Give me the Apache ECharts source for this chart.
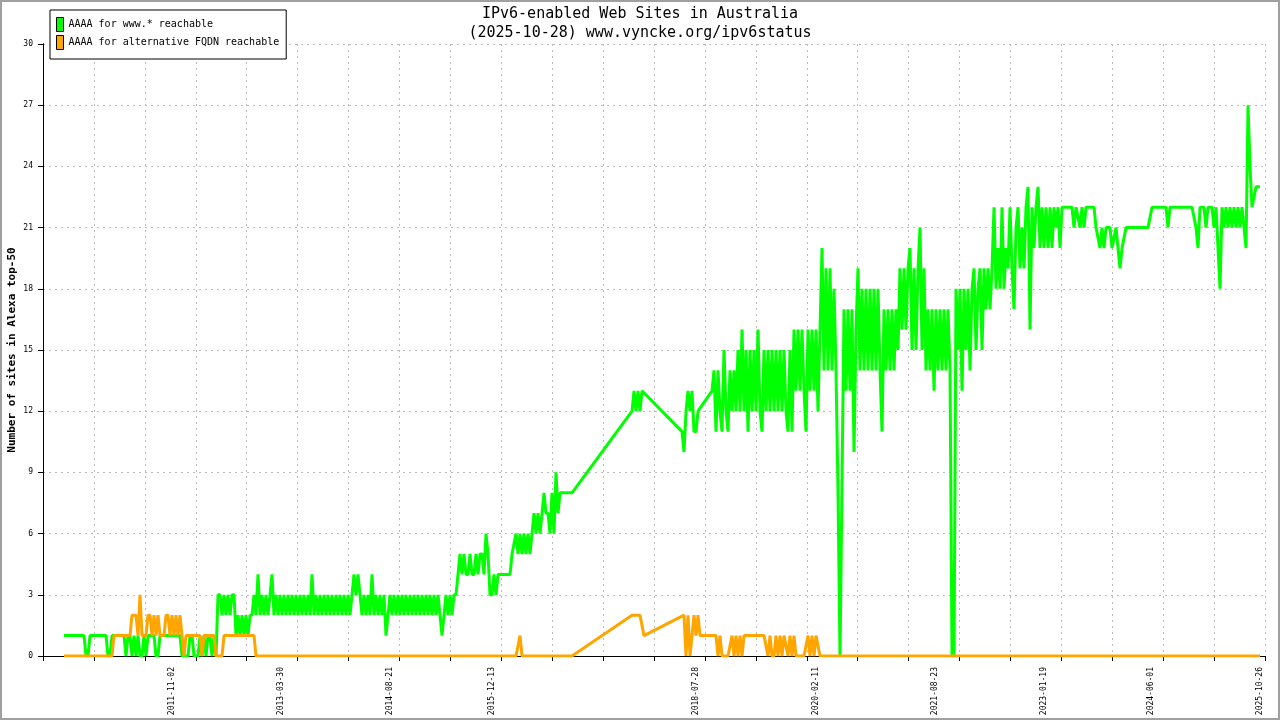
<!DOCTYPE html>
<html>
<head>
<meta charset="utf-8">
<script src="https://cdn.jsdelivr.net/npm/echarts@6/dist/echarts.min.js"></script>
<style>
html,body{margin:0;padding:0;background:#fff;}
#chart{position:absolute;left:0;top:0;width:1280px;height:720px;}
#frame{position:absolute;left:0;top:0;width:1280px;height:720px;box-sizing:border-box;border:2px solid #a0a0a0;pointer-events:none;}
</style>
</head>
<body>
<div id="chart"></div>
<div id="frame"></div>
<script>
// ---- axis / sampling ----
const AXIS_START = [2010, 3, 8];     // date at left edge of plot
const AXIS_DAYS = 5736;              // span of the x axis in days
const TICK_DAYS = 239;               // 24 tick intervals
const DATA_START_DAY = 98.6;         // first sample, days after AXIS_START
const STEP_DAYS = 9.388;             // sampling step of the readings
const SAMPLE_COUNT = 599;

const labelDates = ['2011-11-02','2013-03-30','2014-08-21','2015-12-13','2018-07-28',
                    '2020-02-11','2021-08-23','2023-01-19','2024-06-01','2025-10-26'];
const yTicks = [0,3,6,9,12,15,18,21,24,27,30];

const seriesNames = ['AAAA for www.* reachable', 'AAAA for alternative FQDN reachable'];

// readings: [sampleIndex, value] (held until next entry) or [sampleIndex, [consecutive values]]; null = no readings
const greenPts = [
  [0,1],[11,0],[13,1],[22,0],[24,1],[31,0],[32,1],
  [34,[0,1,0,1,0,0,1,0]],
  [42,1],[46,0],[48,1],[59,0],
  [63,[1,1,0,0,0,1,0,1,0,1,1,0,1,0]],
  [77,[3,3,2,3,2,3,2,3,3]],
  [86,[1,2,1,2,1,2,1,2,2,3,2,4]],
  [98,[2,3,2,3,2,3,4,2]],
  [106,[3,2,3,2,3,2,3,2,3,2,3,2,3,2,3,2,3,2,4,2]],
  [126,[3,2,3,2,3,2,3,2,3,2,3,2,3,2,3,2,3,2,3,4,3,4,3]],
  [149,[2,3,2,3,2,4,2,3,2,3,2,3,1,2]],
  [163,[3,2,3,2,3,2,3,2,3,2,3,2,3,2,3,2,3,2,3,2,3,2,3,2,3,2]],
  [189,[1,2,3,2,3,2,3,3,4,5,4,5,4,4,5,4,4,5,4,5,5,4,6,5,3,3,4,3,4]],
  [224,[5,5,6,5,6,5,6,5,6,5,6,7,6,7,6,7,8,7,7,6,8,6,9,7,8]],
  [255,null],
  [284,[12,13,12,13,12,13]],
  [290,null],
  [309,[11,10,12,13,12,13,11,11,12,12]],
  [319,null],
  [324,[13,
    14,11,14,12,11,15,12,11,14,12,14,12,15,12,
    16,12,15,11,15,12,15,12,16,12,
    11,15,12,15,12,15,12,15,12,15,
    12,15,12,11,15,11,16,13,16,13,
    16,13,11,16,13,16,13,16,12,16,
    20,14,19,14,19,14,18,14,8,0,
    0,17,13,17,13,17,10,16,19,14,
    18,14,18,14,18,14,18,14,18,14,
    11,17,14,17,14,17,14,17,15,19,
    16,19,16,19,20,15,19,15,19,21,
    15,19,14,17,14,17,13,17,14,17,
    14,17,14,17,14,0,0,18,15,18,
    13,18,15,18,14,18,19,15,18,19,
    15,19,17,19,17,19,22,18,20,18,
    22,18,20,19,22,19,17,21,22,19,
    21,19,22,23,16,22,20,22,23,20,
    22,20,22,20,22,20,22,21,22,20,
    22]],
  [500,[22,22,22,22,22,21,22,22,21,22,21,22,22,22,22,22,21,21,20,21,20,21,21,21,20,20,21,20,19,20,20]],
  [531,21],[544,22],[552,21],[553,22],
  [566,[21,20,22]],[571,21],[572,22],[575,21],[576,22],
  [577,[20,18,22,21,22,21,22,21,22,21,22,21,22,21,20,27,24,22,22,23,23,23]]
];

const orangePts = [
  [0,0],[25,1],
  [34,[2,2,2,1,3,1,1,1,2,2,1,2,1,2,1,1,1,2,2,1,2,1,2,1,2]],
  [59,1],[60,0],[61,1],[69,0],[70,1],[76,0],[80,1],[96,0],
  [228,1],[229,0],
  [255,null],[284,2],[290,1],[291,null],[310,2],
  [311,[0,2,0,1,2,1,2,1]],
  [327,[0,1,0]],
  [334,[1,0,1,0,1,0,1]],
  [352,[0,1,0,0,1,0,1,0,1,1,0,1,0,1,0,0]],
  [372,[1,0,1,0,1,1,0]]
];

// ---- build ----
function decode(pts, n) {
  const out = new Array(n).fill(null);
  for (let j = 0; j < pts.length; j++) {
    const k = pts[j][0], v = pts[j][1];
    const next = j + 1 < pts.length ? pts[j + 1][0] : n;
    for (let i = k; i < next && i < n; i++) {
      out[i] = Array.isArray(v) ? v[Math.min(i - k, v.length - 1)] : v;
    }
  }
  return out;
}
function dayOf(i) { return DATA_START_DAY + i * STEP_DAYS; }
// periods without readings are bridged by a straight segment (points simply omitted)
function lineData(vals) {
  const d = [];
  vals.forEach((v, i) => { if (v !== null) d.push([dayOf(i), v]); });
  return d;
}
const startMs = Date.UTC(AXIS_START[0], AXIS_START[1] - 1, AXIS_START[2]);
function dayOffset(s) {
  const p = s.split('-').map(Number);
  return (Date.UTC(p[0], p[1] - 1, p[2]) - startMs) / 86400000;
}
const labelDays = labelDates.map(dayOffset);
const greenVals = decode(greenPts, SAMPLE_COUNT);
const orangeVals = decode(orangePts, SAMPLE_COUNT);

const MONO = 'DejaVu Sans Mono';
const GREEN = '#00ff00', ORANGE = '#ffa500';
function lineSeries(name, color, data, z) {
  return {
    name: name, type: 'line', xAxisIndex: 0, yAxisIndex: 0, data: data,
    showSymbol: false, symbol: 'none', sampling: false,
    color: color, lineStyle: {color: color, width: 3},
    itemStyle: {color: color}, z: z, silent: true
  };
}
const chart = echarts.init(document.getElementById('chart'), null, {renderer: 'canvas'});
const option = {
  animation: false,
  backgroundColor: '#ffffff',
  title: {
    text: 'IPv6-enabled Web Sites in Australia\n(2025-10-28) www.vyncke.org/ipv6status',
    left: 'center', top: 0,
    textStyle: {fontFamily: MONO, fontSize: 15, fontWeight: 'normal', color: '#000', lineHeight: 19}
  },
  legend: {
    orient: 'vertical', left: 50, top: 10,
    backgroundColor: '#fff', borderColor: '#000', borderWidth: 1,
    padding: [7, 7, 9, 6], itemGap: 3, itemWidth: 7, itemHeight: 14,
    icon: 'rect',
    itemStyle: {borderColor: '#000', borderWidth: 1},
    textStyle: {fontFamily: MONO, fontSize: 10, color: '#000'},
    data: seriesNames
  },
  grid: {left: 43, right: 15, top: 44, bottom: 64, outerBoundsMode: 'none', containLabel: false},
  xAxis: [{
    type: 'value', min: 0, max: AXIS_DAYS, interval: TICK_DAYS,
    axisLine: {show: true, onZero: false, lineStyle: {color: '#000', width: 1}},
    axisTick: {show: true, length: 5, lineStyle: {color: '#000'}},
    axisLabel: {show: false},
    splitLine: {show: true, lineStyle: {color: '#bbbbbb', type: [2, 4], width: 1}}
  }, {
    type: 'value', min: 0, max: AXIS_DAYS, position: 'bottom',
    axisLine: {show: false}, axisTick: {show: false}, splitLine: {show: false},
    axisLabel: {
      show: true, rotate: 90, margin: 11, customValues: labelDays,
      fontFamily: MONO, fontSize: 8, color: '#000',
      formatter: function (v) {
        for (let i = 0; i < labelDays.length; i++) if (Math.abs(labelDays[i] - v) < 0.5) return labelDates[i];
        return '';
      }
    }
  }],
  yAxis: [{
    type: 'value', min: 0, max: 30, interval: 3,
    name: 'Number of sites in Alexa top-50', nameLocation: 'middle', nameGap: 25, nameRotate: 90,
    nameMoveOverlap: false,
    nameTextStyle: {fontFamily: MONO, fontSize: 11, fontWeight: 'bold', color: '#000'},
    axisLine: {show: true, lineStyle: {color: '#000', width: 1}},
    axisTick: {show: true, length: 5, lineStyle: {color: '#000'}},
    axisLabel: {fontFamily: MONO, fontSize: 8, color: '#000', margin: 10,
      formatter: function (v) { return yTicks.indexOf(v) >= 0 ? String(v) : ''; }},
    splitLine: {show: true, lineStyle: {color: '#bbbbbb', type: [2, 4], width: 1}}
  }, {
    type: 'value', min: 0, max: 30, interval: 3, position: 'right',
    axisLine: {show: true, lineStyle: {color: '#000', width: 1}},
    axisTick: {show: false}, axisLabel: {show: false}, splitLine: {show: false}
  }],
  series: [
    lineSeries(seriesNames[0], GREEN, lineData(greenVals), 2),
    lineSeries(seriesNames[1], ORANGE, lineData(orangeVals), 3)
  ]
};
chart.setOption(option);
</script>
</body>
</html>
